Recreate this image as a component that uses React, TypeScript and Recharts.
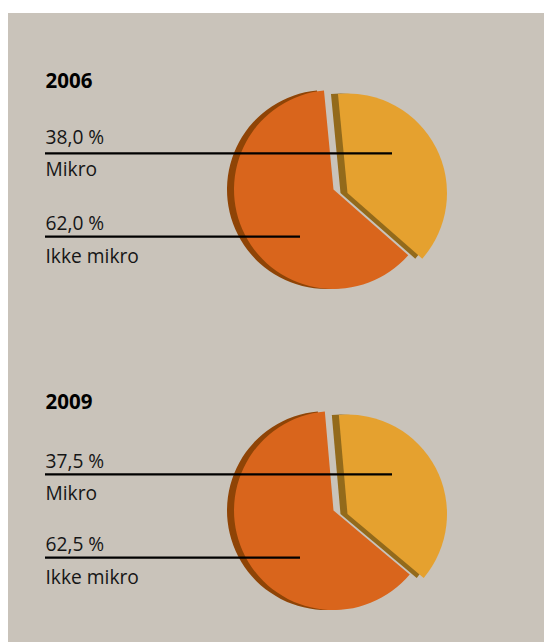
import { PieChart, Pie } from 'recharts'

const labels = ['Ikke mikro', 'Mikro']
const years = ['2006', '2009']
const values2006 = [62, 38]
const values2009 = [62.5, 37.5]
const valueLabels2006 = ['62,0 %', '38,0 %']
const valueLabels2009 = ['62,5 %', '37,5 %']

const faceColors = ['#d9651c', '#e5a12f']
const shadowColors = ['#8f4406', '#936a1b']
const font = '"Open Sans", sans-serif'

function slice(values: number[], keep: number, color: string) {
  return values.map((v, i) => ({
    name: labels[i],
    value: v,
    fill: i === keep ? color : 'none',
  }))
}

function renderSlice(values: number[], keep: number, color: string, cx: number, cy: number, start: number) {
  return (
    <Pie
      data={slice(values, keep, color)}
      dataKey="value"
      cx={cx}
      cy={cy}
      outerRadius={99.5}
      startAngle={start}
      endAngle={start + 360}
      stroke="none"
      labelLine={false}
      isAnimationActive={false}
    />
  )
}

function Block({ year, values, valueLabels, dy, shift, start }: { year: string; values: number[]; valueLabels: string[]; dy: number; shift: number; start: number }) {
  const text = { fontFamily: font, fontSize: 19.2, fill: '#161616' }
  return (
    <>
      <div style={{ position: 'absolute', left: 0, top: dy, width: 544, height: 300 }}>
        <PieChart width={544} height={300} margin={{ top: 0, right: 0, bottom: 0, left: 0 }}>
          {renderSlice(values, 0, shadowColors[0], 326.5, 189.5, start)}
          {renderSlice(values, 1, shadowColors[1], 340.5, 193, start)}
          {renderSlice(values, 0, faceColors[0], 333.5, 189.5, start)}
          {renderSlice(values, 1, faceColors[1], 347.5, 193, start)}
        </PieChart>
      </div>
      <svg width={544} height={300} style={{ position: 'absolute', left: 0, top: dy }}>
        <line x1={45} x2={392} y1={153.3} y2={153.3} stroke="#000" strokeWidth={2.2} />
        <line x1={45} x2={300} y1={236.7} y2={236.7} stroke="#000" strokeWidth={2.2} />
        <text x={45.5} y={88} fontFamily={font} fontSize={20.5} fontWeight={700} fill="#000">{year}</text>
        <text x={45.5} y={143.5 + shift} {...text}>{valueLabels[1]}</text>
        <text x={45.5} y={176 + shift} {...text}>{labels[1]}</text>
        <text x={45.5} y={229.5} {...text}>{valueLabels[0]}</text>
        <text x={45.5} y={263} {...text}>{labels[0]}</text>
      </svg>
    </>
  )
}

export default function App() {
  return (
    <div style={{ position: 'absolute', left: 0, top: 0, width: 544, height: 642, overflow: 'hidden', background: '#fff' }}>
      <div style={{ position: 'absolute', left: 8, top: 13, width: 536, height: 629, background: '#c9c3ba' }} />
      <Block year={years[0]} values={values2006} valueLabels={valueLabels2006} dy={0} shift={0} start={95.5} />
      <Block year={years[1]} values={values2009} valueLabels={valueLabels2009} dy={321} shift={3} start={95} />
    </div>
  )
}
